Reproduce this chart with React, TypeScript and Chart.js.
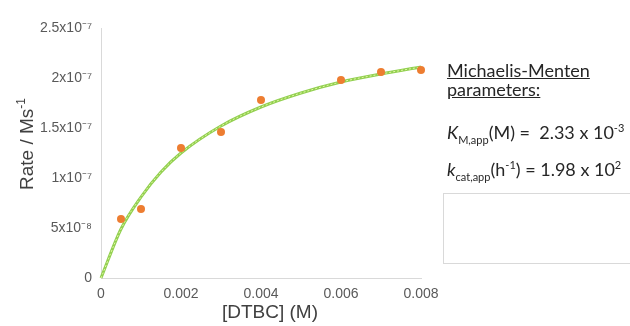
import React, { useEffect, useRef } from "react";
import { Chart, registerables } from "chart.js";

Chart.register(...registerables);

const substrate = [0.0005, 0.001, 0.002, 0.003, 0.004, 0.006, 0.007, 0.008];
const rates = [5.9e-8, 6.9e-8, 1.3e-7, 1.46e-7, 1.78e-7, 1.98e-7, 2.06e-7, 2.08e-7];

const fitX = [0, 0.0005, 0.001, 0.0015, 0.002, 0.003, 0.004, 0.005, 0.006, 0.007, 0.008];
const fitY = [0, 4.9e-8, 8.1e-8, 1.06e-7, 1.25e-7, 1.52e-7, 1.71e-7, 1.85e-7, 1.96e-7, 2.04e-7, 2.11e-7];

const yTickValues = [0, 5e-8, 1e-7, 1.5e-7, 2e-7, 2.5e-7];
const yTickLabels = ["0", "5x10⁻⁸", "1x10⁻⁷", "1.5x10⁻⁷", "2x10⁻⁷", "2.5x10⁻⁷"];
const xTickValues = [0, 0.002, 0.004, 0.006, 0.008];
const xTickLabels = ["0", "0.002", "0.004", "0.006", "0.008"];

const xTitle = "[DTBC] (M)";
const yTitleMain = "Rate / Ms";
const yTitleSup = "-1";

const AXIS_FONT = "'Liberation Sans', Arial, sans-serif";

const titlePlugin = {
  id: "axisTitles",
  afterDraw(chart: any) {
    const ctx = chart.ctx as CanvasRenderingContext2D;
    const area = chart.chartArea;
    ctx.save();
    ctx.fillStyle = "#404040";
    // x title
    ctx.font = `19px ${AXIS_FONT}`;
    ctx.textAlign = "center";
    ctx.textBaseline = "middle";
    ctx.fillText(xTitle, (area.left + area.right) / 2 + 9, 313);
    // y title (rotated, with superscript)
    ctx.translate(26, (area.top + area.bottom) / 2 - 9);
    ctx.rotate(-Math.PI / 2);
    ctx.font = `19px ${AXIS_FONT}`;
    const wMain = ctx.measureText(yTitleMain).width;
    ctx.font = `12px ${AXIS_FONT}`;
    const wSup = ctx.measureText(yTitleSup).width;
    const start = -(wMain + wSup) / 2;
    ctx.textAlign = "left";
    ctx.textBaseline = "alphabetic";
    ctx.font = `19px ${AXIS_FONT}`;
    ctx.fillText(yTitleMain, start, 7);
    ctx.font = `12px ${AXIS_FONT}`;
    ctx.fillText(yTitleSup, start + wMain, -1);
    ctx.restore();
  },
};

export default function App() {
  const ref = useRef<HTMLCanvasElement | null>(null);

  useEffect(() => {
    if (!ref.current) return;
    const pts = (xs: number[], ys: number[]) => xs.map((x, i) => ({ x, y: ys[i] }));
    const chart = new Chart(ref.current, {
      type: "scatter",
      data: {
        datasets: [
          {
            type: "line",
            data: pts(substrate, rates),
            showLine: false,
            pointRadius: 4,
            pointBackgroundColor: "#ed7d31",
            pointBorderColor: "#ed7d31",
            pointBorderWidth: 0,
            clip: false,
            order: 0,
          },
          {
            type: "line",
            data: pts(fitX, fitY),
            borderColor: "#92d050",
            borderWidth: 3,
            pointRadius: 0,
            cubicInterpolationMode: "monotone",
            fill: false,
            clip: false,
            order: 2,
          },
          {
            type: "line",
            data: pts(fitX, fitY),
            borderColor: "#e4f6a6",
            borderWidth: 1,
            borderDash: [2, 2],
            pointRadius: 0,
            cubicInterpolationMode: "monotone",
            fill: false,
            clip: false,
            order: 1,
          },
        ],
      },
      options: {
        responsive: false,
        animation: false,
        devicePixelRatio: 1,
        layout: { padding: { left: 0, right: 209, top: 28, bottom: 0 } },
        plugins: { legend: { display: false }, tooltip: { enabled: false } },
        scales: {
          x: {
            type: "linear",
            min: 0,
            max: 0.008,
            afterBuildTicks: (s: any) => {
              s.ticks = xTickValues.map((v) => ({ value: v }));
            },
            afterFit: (s: any) => {
              s.height = 48;
            },
            grid: { display: false, drawTicks: false },
            border: { display: true, color: "#d9d9d9", width: 1 },
            ticks: {
              padding: 8,
              color: "#595959",
              font: { family: AXIS_FONT, size: 14 },
              callback: (v: any) => {
                const i = xTickValues.findIndex((t) => Math.abs(t - v) < 1e-9);
                return i >= 0 ? xTickLabels[i] : "";
              },
            },
            title: { display: false, text: xTitle },
          },
          y: {
            type: "linear",
            min: 0,
            max: 2.5e-7,
            afterBuildTicks: (s: any) => {
              s.ticks = yTickValues.map((v) => ({ value: v }));
            },
            afterFit: (s: any) => {
              s.width = 101;
            },
            grid: { display: false, drawTicks: false },
            border: { display: true, color: "#d9d9d9", width: 1 },
            ticks: {
              padding: 9,
              color: "#595959",
              font: { family: AXIS_FONT, size: 14 },
              callback: (v: any) => {
                const i = yTickValues.findIndex((t) => Math.abs(t - v) < 1e-12);
                return i >= 0 ? yTickLabels[i] : "";
              },
            },
            title: { display: false, text: yTitleMain + "⁻¹" },
          },
        },
      },
      plugins: [titlePlugin],
    } as any);
    return () => chart.destroy();
  }, []);

  const textFont = "Lato, 'Open Sans', sans-serif";
  const baseText: React.CSSProperties = {
    position: "absolute",
    left: 447,
    fontFamily: textFont,
    fontSize: 18,
    color: "#262626",
    whiteSpace: "nowrap",
  };
  return (
    <div
      style={{
        position: "fixed",
        left: 0,
        top: 0,
        width: 630,
        height: 326,
        overflow: "hidden",
        background: "#fff",
      }}
    >
      <canvas ref={ref} width={630} height={326} style={{ position: "absolute", left: 0, top: 0 }} />
      <div style={{ ...baseText, top: 61, lineHeight: "19px", textDecoration: "underline" }}>
        Michaelis-Menten
        <br />
        parameters:
      </div>
      <div style={{ ...baseText, top: 121 }}>
        <i>K</i>
        <sub style={{ fontSize: 11 }}>M,app</sub>(M) =&nbsp; 2.33 x 10<sup style={{ fontSize: 11 }}>-3</sup>
      </div>
      <div style={{ ...baseText, top: 158 }}>
        <i>k</i>
        <sub style={{ fontSize: 11 }}>cat,app</sub>(h<sup style={{ fontSize: 11 }}>-1</sup>) = 1.98 x 10
        <sup style={{ fontSize: 11 }}>2</sup>
      </div>
      <div
        style={{
          position: "absolute",
          left: 443,
          top: 193,
          width: 200,
          height: 71,
          border: "1px solid #d9d9d9",
          boxSizing: "border-box",
        }}
      />
    </div>
  );
}
